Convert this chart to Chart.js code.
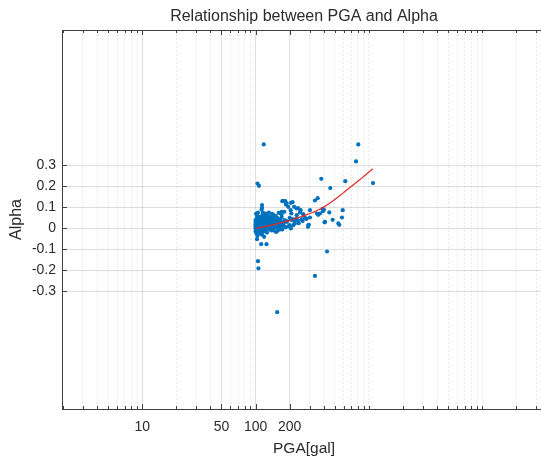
<!DOCTYPE html>
<html><head><meta charset="utf-8">
<script src="https://cdn.jsdelivr.net/npm/chart.js@4.4.0/dist/chart.umd.min.js"></script>
<style>
html,body{margin:0;padding:0;background:#fff;overflow:hidden;width:541px;height:459px}
#wrap{position:absolute;left:0;top:0;width:580px;height:459px}
</style>
</head><body><div id="wrap"><canvas id="c" width="580" height="459"></canvas></div>
<script>
const titleText = 'Relationship between PGA and Alpha';
const xLabel = 'PGA[gal]';
const yLabel = 'Alpha';
const xLabeledTicks = [10, 50, 100, 200];
const xGridTicks = [2,3,4,5,6,7,8,9,10,20,30,40,50,60,70,80,90,100,200,300,400,500,600,700,800,900,
  1000,2000,3000,4000,5000,6000,7000,8000,9000,10000,20000,30000];
const yTickValues = [-0.3,-0.2,-0.1,0,0.1,0.2,0.3];

// sparse points: [PGA, Alpha]
const sparsePoints = [
  [118,0.40],[806,0.40],[769,0.319],[1086,0.216],[104,0.214],[107,0.203],[380,0.236],[619,0.225],[456,0.192],[334,0.133],
  [353,0.144],[427,-0.110],[334,-0.226],[155,-0.399],[105,-0.156],[106,-0.190],[103,-0.051],[112,-0.075],[125,-0.075],[119,-0.04],
  [587,0.087],[578,0.052],[548,0.017],[479,0.041],[447,0.076],[401,0.089],[406,0.029],[357,0.065],[370,0.071],[302,0.087],
  [295,0.017],[290,0.008],[278,0.046],[250,0.087],[212,0.125],[188,0.119],[183,0.13],[172,0.13],[175,0.131],[185,0.114],
  [205,0.122],[219,0.103],[237,0.097],[194,0.103],[114,0.111],[114,0.098],[393,0.082],[348,0.071],[160,0.074],[169,0.067],
  [179,0.079],[207,0.071],[231,0.063],[246,0.076],[143,0.065],[136,0.055],[123,0.071],[129,0.059],[272,0.052],[255,0.043],
  [207,0.04],[222,0.043],[237,0.036],[302,0.052],[410,0.031],[292,0.016],[390,0.093],[537,0.024],[153,0.031],[164,0.02],
  [175,0.024],[188,0.031],[200,0.016],[222,0.024],[143,-0.008],[153,-0.016],[204,0.087],[230,0.095],[263,0.068],[170,0.079],
  [282,0.046]
];
// dense cluster: [PGA, Alpha]
const clusterPoints = [
  [100,0.0],[100,0.01],[100,0.02],[100,0.03],[100,0.04],[101,-0.01],[101,0.005],[101,0.015],[101,0.025],[102,0.035],
  [102,-0.005],[102,0.045],[103,0.0],[103,0.02],[103,0.05],[104,0.01],[104,-0.02],[104,0.03],[105,0.0],[105,0.04],
  [105,0.015],[106,0.025],[106,-0.01],[107,0.005],[107,0.035],[107,0.055],[108,0.02],[108,0.0],[109,0.045],[109,0.01],
  [110,0.03],[110,-0.005],[111,0.015],[111,0.05],[112,0.025],[112,0.0],[113,0.04],[114,0.01],[114,0.06],[115,0.02],
  [115,-0.01],[116,0.035],[117,0.005],[117,0.045],[118,0.025],[119,0.015],[120,0.0],[120,0.05],[121,0.03],[122,0.01],
  [123,0.04],[124,0.02],[125,0.005],[125,0.06],[126,0.03],[127,0.015],[128,0.045],[129,0.025],[130,0.0],[130,0.035],
  [132,0.02],[133,0.05],[134,0.01],[135,0.03],[136,0.04],[137,0.015],[138,0.025],[140,0.005],[140,0.045],[142,0.02],
  [144,0.03],[145,0.01],[147,0.035],[148,0.015],[150,0.025],[152,0.005],[155,0.02],[158,0.03],[160,0.01],[163,0.025],
  [165,0.0],[168,0.015],[170,0.03],[172,-0.005],[175,0.02],[178,0.01],
  [113,0.09],[116,0.075],[118,0.065],[122,0.07],[128,0.06],[131,0.075],[140,0.07],[145,0.055],[150,0.06],[147,0.045],
  [155,0.05],[160,0.04],[165,0.045],[170,0.055],[180,0.04],[190,0.035],[200,0.05],[210,0.045],[220,0.03],[230,0.045],
  [240,0.025],[260,0.035],[103,0.06],[101,0.07],[105,0.075],
  [100,-0.015],[102,-0.025],[104,-0.035],[106,-0.02],[108,-0.015],[111,-0.025],[114,-0.03],[118,-0.015],[122,-0.01],[126,-0.02],
  [132,-0.005],[138,-0.01],[143,-0.008],[150,-0.015],[157,-0.01],[165,-0.005],[185,0.005],[195,0.01],[205,0.0],[215,0.015]
];
// fitted curve
const fitPga   = [100, 115, 130, 147, 164, 182, 200, 222, 246, 272, 300, 334, 370, 410, 450, 500, 556, 615, 680, 755, 834, 950, 1082];
const fitAlpha = [0, 0.006, 0.012, 0.019, 0.026, 0.032, 0.038, 0.046, 0.054, 0.062, 0.071, 0.08, 0.092, 0.105, 0.12, 0.138, 0.157, 0.176, 0.195, 0.214, 0.233, 0.258, 0.284];

const textColor = '#2b2b2b';
const fontFamily = '"Liberation Sans", Arial, Helvetica, sans-serif';

const framePlugin = {
  id: 'frame',
  afterDraw(chart) {
    const {ctx, chartArea: a, scales: {x, y}} = chart;
    ctx.save();
    ctx.strokeStyle = '#404040';
    ctx.lineWidth = 1;
    ctx.beginPath();
    xGridTicks.forEach(v => {
      const px = Math.round(x.getPixelForValue(v)) + 0.5;
      const len = xLabeledTicks.includes(v) ? 5 : 3;
      ctx.moveTo(px, a.bottom); ctx.lineTo(px, a.bottom - len);
      ctx.moveTo(px, a.top); ctx.lineTo(px, a.top + len);
    });
    yTickValues.forEach(v => {
      const py = Math.round(y.getPixelForValue(v)) + 0.5;
      ctx.moveTo(a.left, py); ctx.lineTo(a.left + 5, py);
      ctx.moveTo(a.right, py); ctx.lineTo(a.right - 5, py);
    });
    ctx.stroke();
    ctx.strokeRect(Math.round(a.left) + 0.5, Math.round(a.top) + 0.5,
      Math.round(a.right - a.left), Math.round(a.bottom - a.top));
    ctx.restore();
  }
};

new Chart(document.getElementById('c'), {
  data: {
    datasets: [
      {
        type: 'line',
        data: fitPga.map((p, i) => ({x: p, y: fitAlpha[i]})),
        borderColor: 'rgb(228,40,40)',
        borderWidth: 1.2,
        pointRadius: 0,
        fill: false,
        tension: 0.3,
        order: 0
      },
      {
        type: 'scatter',
        data: sparsePoints.concat(clusterPoints).map(p => ({x: p[0], y: p[1]})),
        backgroundColor: 'rgb(0,114,189)',
        borderWidth: 0,
        pointRadius: 2.1,
        order: 1
      }
    ]
  },
  options: {
    responsive: false,
    animation: false,
    devicePixelRatio: 1,
    layout: {padding: {left: 0, right: 34, top: 0, bottom: 0}},
    plugins: {
      legend: {display: false},
      tooltip: {enabled: false},
      title: {
        display: true, text: titleText, fullSize: false, color: textColor,
        font: {family: fontFamily, size: 16, weight: 'normal'},
        padding: {top: 6.6, bottom: 4.2}
      }
    },
    scales: {
      x: {
        type: 'logarithmic', min: 1.96, max: 36500,
        afterBuildTicks: s => { s.ticks = xGridTicks.map(v => ({value: v})); },
        afterFit: s => { s.height = 50; },
        ticks: {
          autoSkip: false, maxRotation: 0, minRotation: 0, padding: 10,
          color: textColor, font: {family: fontFamily, size: 14},
          callback: v => xLabeledTicks.includes(v) ? String(v) : ''
        },
        grid: {
          drawTicks: false,
          color: c => xLabeledTicks.includes(c.tick && c.tick.value) ? 'rgba(0,0,0,0.12)' : 'rgba(0,0,0,0.11)',
          lineWidth: 1
        },
        border: {display: false, dash: c => xLabeledTicks.includes(c.tick && c.tick.value) ? [] : [1.5, 2.5]},
        title: {display: true, text: xLabel, color: textColor,
          font: {family: fontFamily, size: 15.5}, padding: {top: 0, bottom: 1}}
      },
      y: {
        type: 'linear', min: -0.86, max: 0.945,
        afterBuildTicks: s => { s.ticks = yTickValues.map(v => ({value: v})); },
        afterFit: s => { s.width = 62; },
        ticks: {
          padding: 6, color: textColor, font: {family: fontFamily, size: 14},
          callback: v => String(Math.round(v * 10) / 10)
        },
        grid: {drawTicks: false, color: 'rgba(0,0,0,0.13)', lineWidth: 1},
        border: {display: false},
        title: {display: true, text: yLabel, color: textColor,
          font: {family: fontFamily, size: 16}, padding: {top: 7, bottom: 0}}
      }
    }
  },
  plugins: [framePlugin]
});
</script>
</body></html>
